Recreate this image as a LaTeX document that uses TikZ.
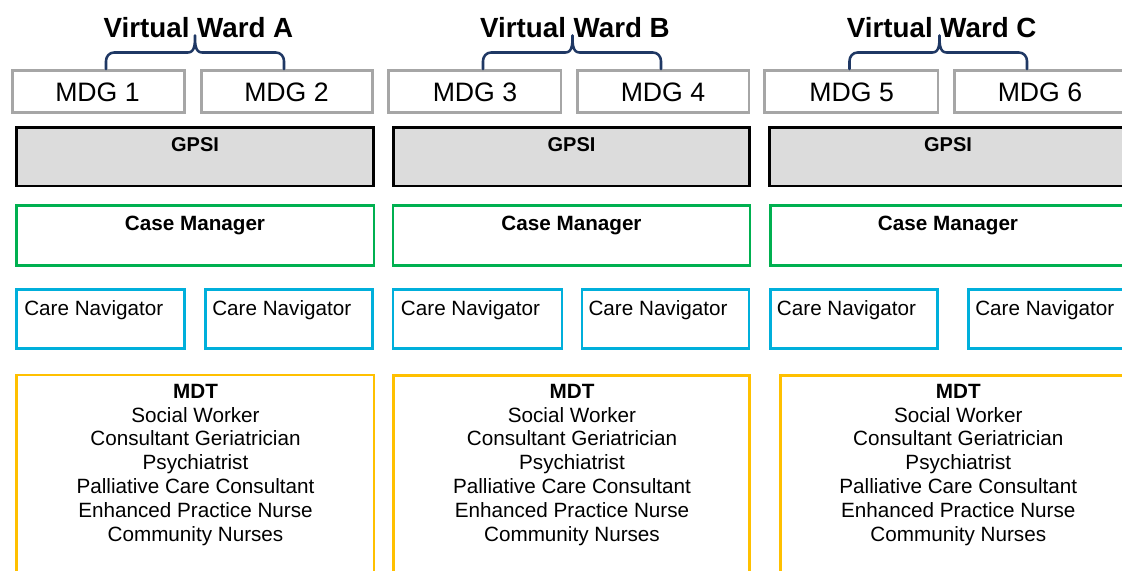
\documentclass[tikz,border=0pt]{standalone}
\usepackage{fontspec}
\setmainfont{Liberation Sans}
\definecolor{mdggray}{HTML}{A6A6A6}
\definecolor{gpsifill}{HTML}{DCDCDC}
\definecolor{cmgreen}{HTML}{00B050}
\definecolor{cncyan}{HTML}{00AFDB}
\definecolor{mdtyellow}{HTML}{FFC000}
\definecolor{bracenavy}{HTML}{1F3864}
\tikzset{
  boxbase/.style={rectangle, inner sep=0pt, outer sep=0pt, line width=2.2pt},
  mdgbox/.style={boxbase, draw=mdggray, fill=white},
  gpsibox/.style={boxbase, draw=black, fill=gpsifill},
  cmbox/.style={boxbase, draw=cmgreen},
  cnbox/.style={boxbase, draw=cncyan},
  mdtbox/.style={boxbase, draw=mdtyellow},
  wardtext/.style={anchor=base, inner sep=0pt, font=\fontsize{20.8}{24}\selectfont\bfseries},
  mdgtext/.style={anchor=base, inner sep=0pt, font=\fontsize{20}{24}\selectfont},
  gpsitext/.style={anchor=base, inner sep=0pt, font=\fontsize{15}{18}\selectfont\bfseries},
  cmtext/.style={anchor=base, inner sep=0pt, font=\fontsize{15.5}{18}\selectfont\bfseries},
  cntext/.style={anchor=base west, inner sep=0pt, font=\fontsize{15.5}{18}\selectfont},
  mdthead/.style={anchor=base, inner sep=0pt, font=\fontsize{15.5}{18}\selectfont\bfseries},
  mdtline/.style={anchor=base, inner sep=0pt, font=\fontsize{15.5}{18}\selectfont},
  bracepath/.style={draw=bracenavy, line width=1.9pt, line cap=round, line join=round}
}
% \bx{style}{name}{x1}{y1}{x2}{y2}  (pixel coordinates, y downward)
\newcommand{\bx}[6]{%
  \node[#1, minimum width={(#5-#3)*0.75pt}, minimum height={(#6-#4)*0.75pt}]
    (#2) at ({(#3+#5)/2},{(#4+#6)/2}) {};}
% \wbrace{name}{xl}{xm}{xr}
\newcommand{\wbrace}[4]{%
  \coordinate (#1l) at (#2,69);
  \coordinate (#1m) at (#3,35.5);
  \coordinate (#1r) at (#4,69);
  \draw[bracepath] (#1l) -- (#2,61) to[out=90,in=180] (#2+8,52.5) -- (#3-7,52.5)
    to[out=0,in=-90] (#1m) to[out=-90,in=180] (#3+7,52.5) -- (#4-8,52.5)
    to[out=0,in=90] (#4,61) -- (#1r);}
\newcommand{\mdtlist}[3]{%
  \node[mdthead] (#1h) at (#2,398.3) {MDT};
  \foreach \t [count=\i] in {Social Worker, Consultant Geriatrician, Psychiatrist,
      Palliative Care Consultant, Enhanced Practice Nurse, Community Nurses}
    \node[mdtline] (#1l\i) at (#2,{398.3+23.8*\i}) {\t};}
\begin{document}
\begin{tikzpicture}[x=0.75pt, y=-0.75pt]
\useasboundingbox (0,0) rectangle (1122,571);
\clip (0,0) rectangle (1122,571);
\fill[white] (0,0) rectangle (1122,571);

% ---- Column A ----
\bx{mdgbox}{mdg1}{12.5}{70.5}{184.5}{112.8}
\bx{mdgbox}{mdg2}{201.5}{70.5}{372.5}{112.8}
\bx{gpsibox}{gpsiA}{16.5}{127.5}{373.5}{186}
\bx{cmbox}{cmA}{16.5}{205.8}{374}{265.2}
\bx{cnbox}{cnA1}{16.5}{289.8}{184.5}{348.5}
\bx{cnbox}{cnA2}{205.5}{289.8}{372.5}{348.5}
\bx{mdtbox}{mdtA}{16.5}{375}{374}{640}

% ---- Column B ----
\bx{mdgbox}{mdg3}{388.5}{70.5}{561}{112.8}
\bx{mdgbox}{mdg4}{577.5}{70.5}{749}{112.8}
\bx{gpsibox}{gpsiB}{393.5}{127.5}{749.5}{186}
\bx{cmbox}{cmB}{393}{205.8}{750}{265.2}
\bx{cnbox}{cnB1}{393}{289.8}{562}{348.5}
\bx{cnbox}{cnB2}{582}{289.8}{749}{348.5}
\bx{mdtbox}{mdtB}{393.5}{375.5}{749.5}{640}

% ---- Column C ----
\bx{mdgbox}{mdg5}{764.5}{70.5}{938}{112.8}
\bx{mdgbox}{mdg6}{954.5}{70.5}{1135}{112.8}
\bx{gpsibox}{gpsiC}{769.5}{127.5}{1135}{186}
\bx{cmbox}{cmC}{770.5}{205.8}{1135}{265.2}
\bx{cnbox}{cnC1}{770.5}{289.8}{937.5}{348.5}
\bx{cnbox}{cnC2}{968.5}{289.8}{1135}{348.5}
\bx{mdtbox}{mdtC}{780.5}{375.5}{1135}{640}

% ---- Braces ----
\wbrace{brA}{106}{195}{284}
\wbrace{brB}{483}{572.5}{661}
\wbrace{brC}{849.5}{939.5}{1027}

% ---- Texts ----
\node[wardtext] (vwA) at (198.5,37.5) {Virtual Ward A};
\node[wardtext] (vwB) at (575,37.2) {Virtual Ward B};
\node[wardtext] (vwC) at (941.7,37.2) {Virtual Ward C};

\node[mdgtext] (t1) at (97.5,101) {MDG 1};
\node[mdgtext] (t2) at (286.5,101) {MDG 2};
\node[mdgtext] (t3) at (475,101) {MDG 3};
\node[mdgtext] (t4) at (663,101) {MDG 4};
\node[mdgtext] (t5) at (851.7,101) {MDG 5};
\node[mdgtext] (t6) at (1040,101) {MDG 6};

\node[gpsitext] (gA) at (195,151.7) {GPSI};
\node[gpsitext] (gB) at (571.5,151.7) {GPSI};
\node[gpsitext] (gC) at (948,151.7) {GPSI};

\node[cmtext] (cA) at (195,230.8) {Case Manager};
\node[cmtext] (cB) at (571.5,230.8) {Case Manager};
\node[cmtext] (cC) at (948,230.8) {Case Manager};

\node[cntext] (nA1) at (24,315) {Care Navigator};
\node[cntext] (nA2) at (212,315) {Care Navigator};
\node[cntext] (nB1) at (400.7,315) {Care Navigator};
\node[cntext] (nB2) at (588.3,315) {Care Navigator};
\node[cntext] (nC1) at (776.7,315) {Care Navigator};
\node[cntext] (nC2) at (975,315) {Care Navigator};

\mdtlist{mA}{195.5}{}
\mdtlist{mB}{572}{}
\mdtlist{mC}{958.3}{}
\end{tikzpicture}
\end{document}
